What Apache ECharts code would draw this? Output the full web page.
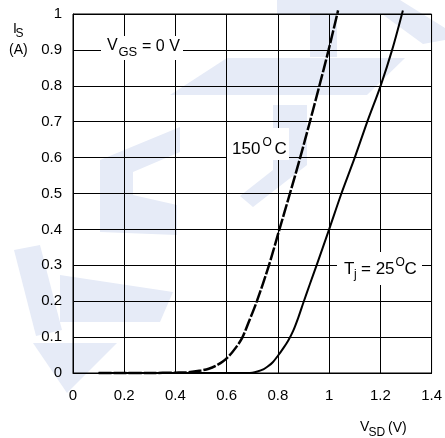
<!DOCTYPE html>
<html>
<head>
<meta charset="utf-8">
<script src="https://cdn.jsdelivr.net/npm/echarts@6/dist/echarts.min.js"></script>
<style>html,body{margin:0;padding:0;background:#fff;}#c{width:445px;height:438px;}</style>
</head>
<body>
<div id="c"></div>
<script>
// Data
var xTicks = [0, 0.2, 0.4, 0.6, 0.8, 1, 1.2, 1.4];
var yTicks = [0, 0.1, 0.2, 0.3, 0.4, 0.5, 0.6, 0.7, 0.8, 0.9, 1];
var vsd150 = [0.10, 0.20, 0.30, 0.40, 0.45, 0.50, 0.53, 0.557, 0.585, 0.61, 0.635, 0.66, 0.685, 0.718, 0.765, 0.806, 0.847, 0.887, 0.925, 0.962, 0.998, 1.035];
var is150  = [0.000, 0.000, 0.000, 0.001, 0.002, 0.007, 0.012, 0.020, 0.032, 0.048, 0.070, 0.097, 0.140, 0.200, 0.300, 0.400, 0.500, 0.600, 0.700, 0.800, 0.900, 1.010];
var vsd25  = [0.10, 0.30, 0.50, 0.65, 0.70, 0.72, 0.745, 0.76, 0.78, 0.80, 0.82, 0.84, 0.86, 0.88, 0.90, 0.925, 0.951, 1.000, 1.048, 1.100, 1.149, 1.201, 1.246, 1.288];
var is25   = [0.000, 0.000, 0.000, 0.000, 0.001, 0.004, 0.011, 0.018, 0.030, 0.048, 0.068, 0.090, 0.118, 0.155, 0.197, 0.248, 0.300, 0.400, 0.500, 0.600, 0.700, 0.800, 0.900, 1.010];

function pairs(xs, ys) { return xs.map(function (x, i) { return [x, ys[i]]; }); }

var FONT = 'Liberation Sans';
function txt(s, x, y, size) {
  return { type: 'text', z: 20, style: { text: s, x: x, y: y, fontSize: size, fontFamily: FONT, fill: '#000', verticalAlign: 'middle', align: 'left' } };
}
function box(x, y, w, h) {
  return { type: 'rect', z: 15, shape: { x: x, y: y, width: w, height: h }, style: { fill: '#fff' } };
}
var WM = '#e6ebf7';
function poly(pts) {
  return { type: 'polygon', z: -5, shape: { points: pts }, style: { fill: WM } };
}

var chart = echarts.init(document.getElementById('c'));
chart.setOption({
  animation: false,
  backgroundColor: '#fff',
  grid: { left: 73, right: 11, top: 14, bottom: 65, show: true, borderColor: '#000', borderWidth: 1, backgroundColor: 'transparent' },
  xAxis: {
    type: 'value', min: xTicks[0], max: xTicks[xTicks.length - 1], interval: 0.2,
    axisLine: { show: true, lineStyle: { color: '#000', width: 1 } },
    axisTick: { show: false },
    splitLine: { show: true, lineStyle: { color: '#000', width: 1 } },
    axisLabel: { color: '#000', fontSize: 15, fontFamily: FONT, margin: 15, showMaxLabel: true, showMinLabel: true }
  },
  yAxis: {
    type: 'value', min: yTicks[0], max: yTicks[yTicks.length - 1], interval: 0.1,
    axisLine: { show: true, lineStyle: { color: '#000', width: 1 } },
    axisTick: { show: false },
    splitLine: { show: true, lineStyle: { color: '#000', width: 1 } },
    axisLabel: { color: '#000', fontSize: 15, fontFamily: FONT, margin: 11 }
  },
  series: [
    { type: 'line', name: '150', data: pairs(vsd150, is150), showSymbol: false, smooth: 0.3, clip: false, z: 5,
      lineStyle: { color: '#000', width: 2.5, type: [13, 2] } },
    { type: 'line', name: '25', data: pairs(vsd25, is25), showSymbol: false, smooth: 0.3, clip: false, z: 5,
      lineStyle: { color: '#000', width: 2 } }
  ],
  graphic: [
    // faint watermark
    poly([[277,0],[400,0],[445,28],[445,40],[423,44],[382,14],[277,14]]),
    poly([[310,0],[337,0],[337,57],[310,57]]),
    poly([[227,58],[405,58],[367,95],[170,95]]),
    poly([[273,105],[307,105],[307,165],[253,207],[240,196],[273,170]]),
    poly([[180,127],[100,160],[100,232],[177,235],[177,205],[133,195],[133,172],[180,152]]),
    poly([[60,275],[173,292],[160,322],[60,322]]),
    poly([[14,250],[40,245],[62,330],[36,336]]),
    poly([[33,343],[117,343],[67,393]]),
    // y axis name
    txt('I', 13, 29, 14), txt('S', 15.5, 34, 12), txt('(A)', 9, 50, 14),
    // x axis name
    txt('V', 360, 427.5, 14), txt('SD', 368.5, 433, 12), txt('(V)', 388, 428, 14),
    // VGS = 0 V
    box(101, 36, 82, 24),
    txt('V', 107, 46, 16), txt('GS', 118.5, 52, 13), txt('= 0 V', 142, 47, 16),
    // 150 C
    box(227, 128, 62, 32),
    txt('150', 232, 149.5, 17), txt('O', 262.5, 142.5, 12), txt('C', 274.5, 149.5, 17),
    // Tj = 25 C
    box(337, 252, 85, 33),
    txt('T', 344, 269.5, 17), txt('j', 354, 275, 12), txt('= 25', 361, 269.5, 17), txt('O', 395.5, 263, 12), txt('C', 404.5, 269.5, 17)
  ]
});
</script>
</body>
</html>
